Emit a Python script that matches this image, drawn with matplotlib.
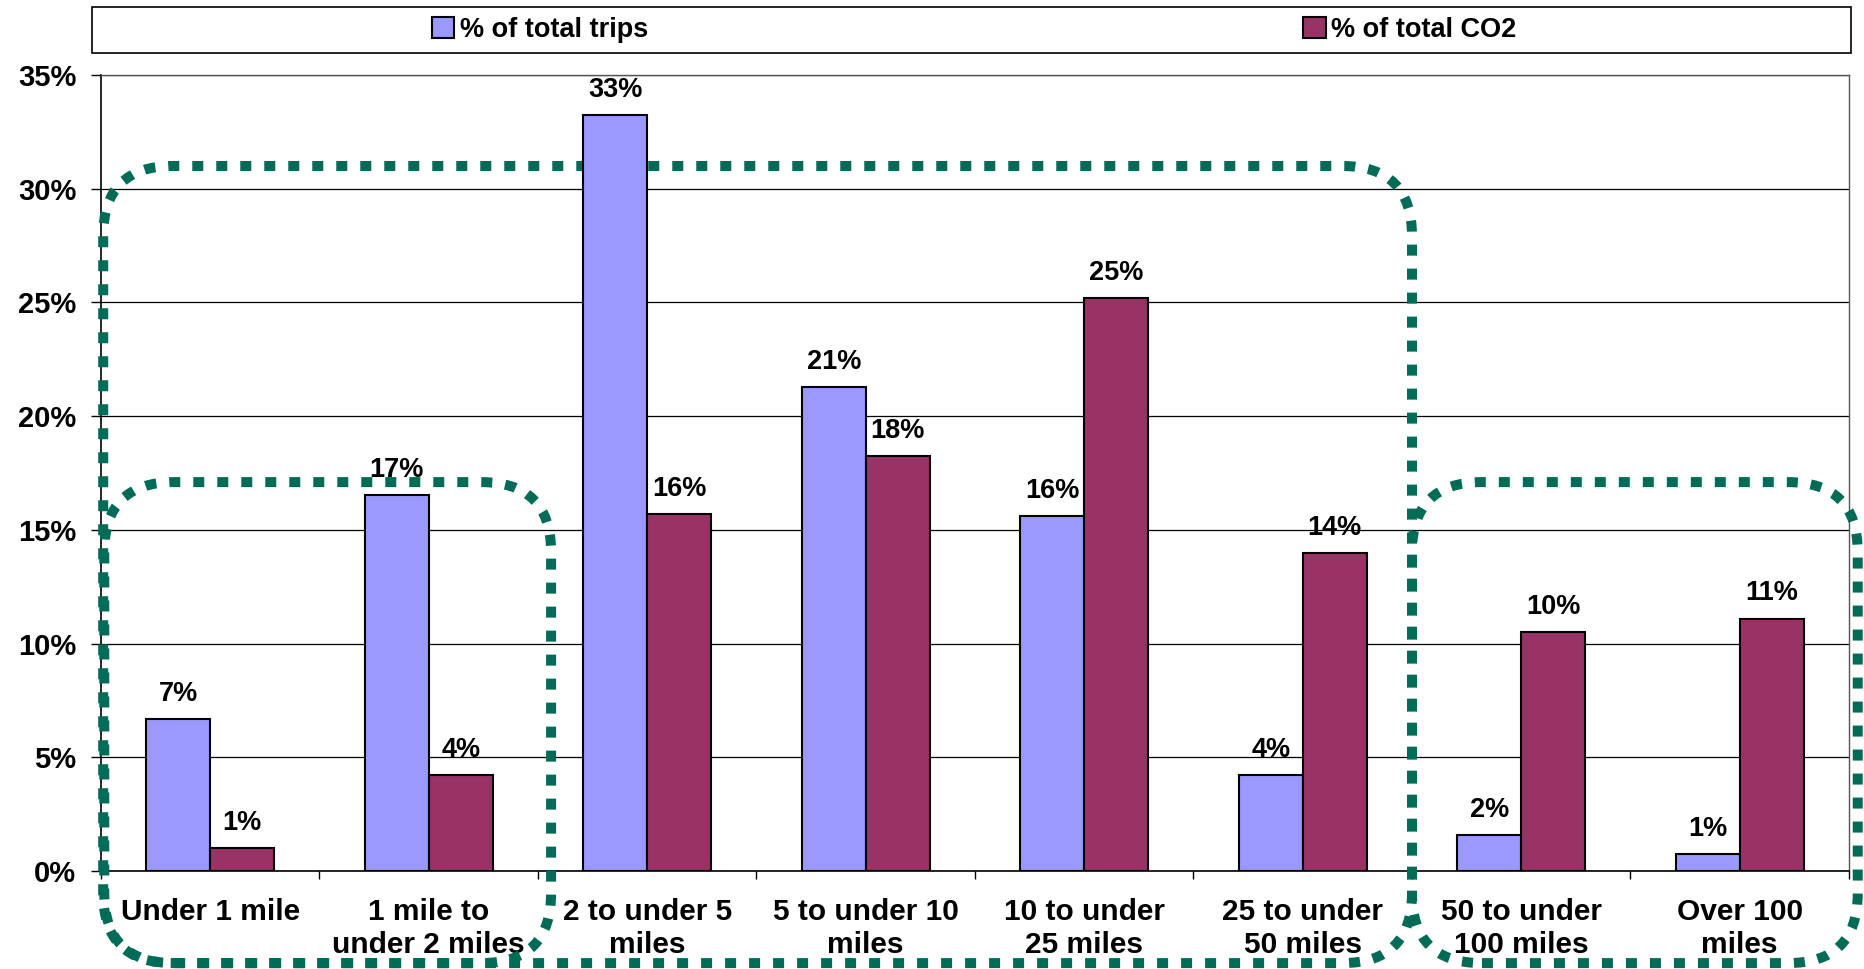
"""
Trip distance bands: share of trips vs share of CO2, with dotted grouping boxes.
"""
import matplotlib
matplotlib.use("Agg")
import matplotlib.pyplot as plt
import numpy as np
from matplotlib.patches import FancyBboxPatch, Patch, Rectangle

categories = [
    "Under 1 mile",
    "1 mile to\nunder 2 miles",
    "2 to under 5\nmiles",
    "5 to under 10\nmiles",
    "10 to under\n25 miles",
    "25 to under\n50 miles",
    "50 to under\n100 miles",
    "Over 100\nmiles",
]
trips_pct = [6.7, 16.55, 33.25, 21.3, 15.6, 4.2, 1.6, 0.73]
co2_pct = [1.0, 4.2, 15.7, 18.25, 25.2, 14.0, 10.5, 11.1]
trips_labels = ["7%", "17%", "33%", "21%", "16%", "4%", "2%", "1%"]
co2_labels = ["1%", "4%", "16%", "18%", "25%", "14%", "10%", "11%"]
y_ticks = [0, 5, 10, 15, 20, 25, 30, 35]

# grouping boxes: (x from, x to, y from, y to) in category / percent units
groups = [
    (-0.485, 1.56, -4.05, 17.1),
    (-0.49, 5.50, -4.05, 31.0),
    (5.50, 7.54, -4.05, 17.1),
]

BLUE = "#9999FF"
PLUM = "#993366"
GREEN = "#006B56"
FONT = "Liberation Sans"

W, H = 1865, 969
fig = plt.figure(figsize=(W / 100, H / 100), dpi=100)
ax = fig.add_axes([101 / W, 1 - 871 / H, 1748 / W, 796 / H])

x = np.arange(len(categories))
bw = 0.293
bars1 = ax.bar(x - bw / 2, trips_pct, bw, color=BLUE, edgecolor="black",
               linewidth=1.5, zorder=3)
bars2 = ax.bar(x + bw / 2, co2_pct, bw, color=PLUM, edgecolor="black",
               linewidth=1.5, zorder=3)

for bars, labels in ((bars1, trips_labels), (bars2, co2_labels)):
    for b, lab in zip(bars, labels):
        ax.annotate(lab, (b.get_x() + b.get_width() / 2, b.get_height()),
                    xytext=(0, 13), textcoords="offset points",
                    ha="center", va="baseline", fontsize=19.5,
                    fontweight="bold", family=FONT, zorder=4)

ax.set_xlim(-0.5, len(categories) - 0.5)
ax.set_ylim(0, 35)
ax.set_yticks(y_ticks)
ax.set_yticklabels([f"{v}%" for v in y_ticks], fontsize=21,
                   fontweight="bold", family=FONT)
ax.tick_params(axis="y", direction="out", length=7.2, width=1.0, pad=10.5)

ax.set_xticks(np.arange(-0.5, len(categories), 1.0))
ax.set_xticklabels([])
ax.tick_params(axis="x", which="major", direction="out", length=5.8, width=1.0)
ax.set_xticks(x, minor=True)
ax.set_xticklabels(categories, minor=True, fontsize=21.5, fontweight="bold",
                   family=FONT, linespacing=1.22)
ax.tick_params(axis="x", which="minor", length=0, pad=19.5)

ax.yaxis.grid(True, color="black", linewidth=0.9)
ax.set_axisbelow(True)
for side in ("left", "bottom"):
    ax.spines[side].set_color("black")
    ax.spines[side].set_linewidth(1.2)
for side in ("top", "right"):
    ax.spines[side].set_color("#555555")
    ax.spines[side].set_linewidth(1.0)

# dotted groups sit above gridlines and tick labels, under the bars
for x0, x1, y0, y1 in groups:
    box = FancyBboxPatch((x0, y0), x1 - x0, y1 - y0,
                         boxstyle="round,pad=0,rounding_size=0.32",
                         mutation_aspect=9.6, fill=False, edgecolor=GREEN,
                         linewidth=7.2, linestyle=(0, (1.1, 1.3)),
                         capstyle="butt", clip_on=False, zorder=2.7)
    ax.add_patch(box)

# legend frame across the top
fig.add_artist(Rectangle((92 / W, 1 - 53 / H), 1759 / W, 46 / H,
                         transform=fig.transFigure, facecolor="white",
                         edgecolor="black", linewidth=1.2))
handles = [Patch(facecolor=BLUE, edgecolor="black", linewidth=1.5),
           Patch(facecolor=PLUM, edgecolor="black", linewidth=1.5)]
fig.legend(handles, ["% of total trips", "% of total CO2"], loc="center",
           bbox_to_anchor=(974 / W, 1 - 30 / H), ncol=2, frameon=False,
           columnspacing=24.2, handlelength=0.83, handleheight=0.83,
           handletextpad=0.2, prop={"family": FONT, "weight": "bold",
                                    "size": 19.5})

fig.savefig("out.png", dpi=100)
